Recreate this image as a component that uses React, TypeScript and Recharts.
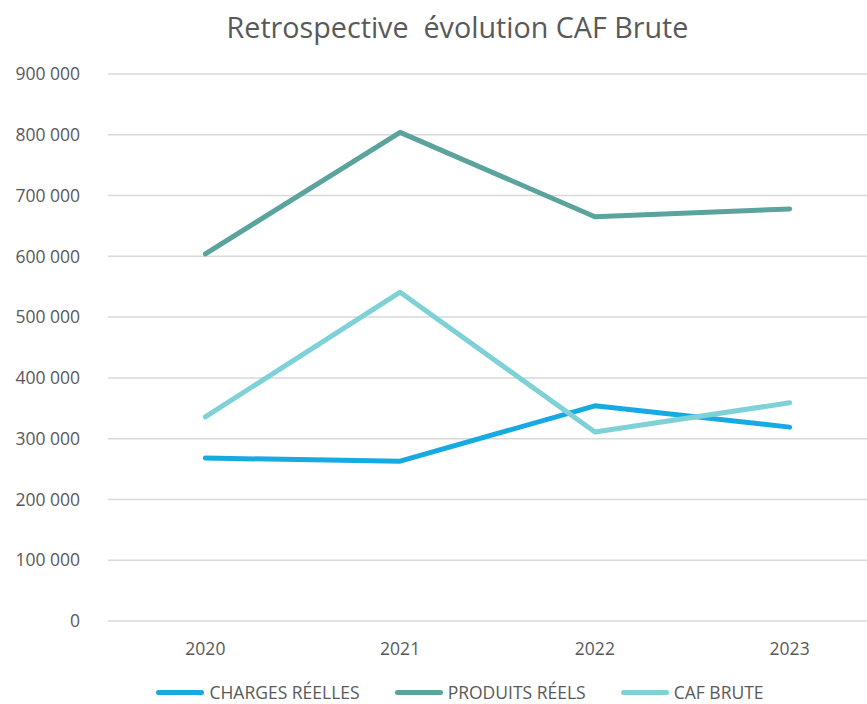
import React from "react";
import { LineChart, Line, XAxis, YAxis, CartesianGrid } from "recharts";

const years = ["2020", "2021", "2022", "2023"];
const chargesReelles = [268000, 263000, 354000, 319000];
const produitsReels = [604000, 804000, 665000, 678000];
const cafBrute = [336000, 541000, 311000, 359000];
const yTicks = [0, 100000, 200000, 300000, 400000, 500000, 600000, 700000, 800000, 900000];

const seriesInfo = [
  { key: "charges", name: "CHARGES RÉELLES", color: "#17A9E1" },
  { key: "produits", name: "PRODUITS RÉELS", color: "#5BA39D" },
  { key: "caf", name: "CAF BRUTE", color: "#7FD1D8" },
];

const data = years.map((y, i) => ({
  year: y,
  charges: chargesReelles[i],
  produits: produitsReels[i],
  caf: cafBrute[i],
}));

const FONT = "'Open Sans', sans-serif";
const TEXT = "#595959";

const fmt = (v: number) => {
  if (v === 0) return "0";
  const s = String(v);
  return s.replace(/\B(?=(\d{3})+(?!\d))/g, " ");
};

export default function App() {
  return (
    <div
      style={{
        position: "absolute",
        left: 0,
        top: 0,
        width: 867,
        height: 704,
        overflow: "hidden",
        background: "#fff",
      }}
    >
      <div
        style={{
          position: "absolute",
          top: 7,
          left: 0,
          width: 915,
          textAlign: "center",
          fontFamily: FONT,
          fontSize: 28.7,
          color: TEXT,
          whiteSpace: "pre",
        }}
      >
        {"Retrospective  évolution CAF Brute"}
      </div>
      <LineChart
        width={890}
        height={704}
        data={data}
        margin={{ top: 74, right: 3, left: 0, bottom: 53 }}
      >
        <CartesianGrid vertical={false} stroke="#D9D9D9" strokeWidth={1.5} />
        <XAxis
          dataKey="year"
          scale="band"
          axisLine={false}
          tickLine={false}
          tick={{ fill: TEXT, fontFamily: FONT, fontSize: 17.5 }}
          tickMargin={16}
          height={30}
        />
        <YAxis
          width={108}
          domain={[0, 900000]}
          ticks={yTicks}
          interval={0}
          axisLine={false}
          tickLine={false}
          tickFormatter={fmt}
          tick={{ fill: TEXT, fontFamily: FONT, fontSize: 17.5 }}
          tickMargin={22}
        />
        {seriesInfo.map((s) => (
          <Line
            key={s.key}
            type="linear"
            dataKey={s.key}
            name={s.name}
            stroke={s.color}
            strokeWidth={5}
            strokeLinecap="round"
            strokeLinejoin="round"
            dot={false}
            activeDot={false}
            isAnimationActive={false}
          />
        ))}
      </LineChart>
      <div
        style={{
          position: "absolute",
          left: 0,
          top: 680,
          width: 920,
          display: "flex",
          justifyContent: "center",
          alignItems: "center",
          fontFamily: FONT,
          fontSize: 17.5,
          color: TEXT,
        }}
      >
        {seriesInfo.map((s, i) => (
          <div key={s.key} style={{ display: "flex", alignItems: "center", marginLeft: i === 0 ? 0 : 35 }}>
            <div style={{ width: 48, height: 5, borderRadius: 3, background: s.color, marginRight: 5 }} />
            <span>{s.name}</span>
          </div>
        ))}
      </div>
    </div>
  );
}
